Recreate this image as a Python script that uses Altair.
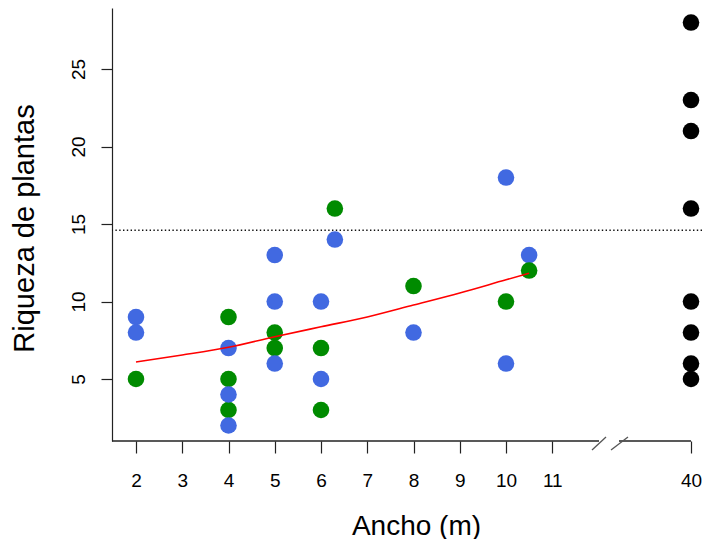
import altair as alt
import pandas as pd

# ---------------- data ----------------
x_tick_values = [2, 3, 4, 5, 6, 7, 8, 9, 10, 11, 40]
y_tick_values = [5, 10, 15, 20, 25]

green_x = [2, 4, 4, 4, 5, 5, 6, 6, 6.3, 8, 10, 10.5]
green_y = [5, 9, 5, 3, 8, 7, 7, 3, 16, 11, 10, 12]

blue_x = [2, 2, 4, 4, 4, 5, 5, 5, 6, 6, 6.3, 8, 10, 10, 10.5]
blue_y = [9, 8, 7, 4, 2, 13, 10, 6, 10, 5, 14, 8, 18, 6, 13]

black_x = [40, 40, 40, 40, 40, 40, 40, 40]
black_y = [28, 23, 21, 16, 10, 8, 6, 5]

curve_x = [2, 3, 4, 5, 6, 7, 8, 9, 10, 10.5]
curve_y = [6.1, 6.55, 7.05, 7.73, 8.37, 9.0, 9.77, 10.55, 11.4, 11.82]

threshold_y = [14.6]

# ---------------- layout constants ----------------
BREAK_POS = 14          # plotted position of the 40 m value (broken axis)
PX_PER_UNIT = 46.25
X_MIN = 2 - 24 / PX_PER_UNIT
PLOT_W, PLOT_H = 590, 433
X_MAX = X_MIN + PLOT_W / PX_PER_UNIT
Y_MIN, Y_MAX = 1.0, 28.94
FONT = "Liberation Sans"
AXIS_COL = "#222222"


def xpos(v):
    return BREAK_POS if v >= 40 else v


def px_to_x(px):
    # pixel offset from the page's left edge -> position on the x scale
    return X_MIN + (px - 112) / PX_PER_UNIT


# points table in drawing order
rows = []
for x, y in zip(green_x, green_y):
    rows.append({"xp": xpos(x), "y": y, "grp": "verde", "ord": 2 if x == 10.5 else 0})
for x, y in zip(blue_x, blue_y):
    rows.append({"xp": xpos(x), "y": y, "grp": "azul", "ord": 1})
for x, y in zip(black_x, black_y):
    rows.append({"xp": xpos(x), "y": y, "grp": "negro", "ord": 3})
pts = pd.DataFrame(rows).sort_values("ord", kind="stable").reset_index(drop=True)

curve = pd.DataFrame({"xp": [xpos(v) for v in curve_x], "y": curve_y})
thr = pd.DataFrame({"y": threshold_y})

# broken x-axis line and the two slashes
axis_seg = pd.DataFrame({"x1": [X_MIN, px_to_x(619)], "x2": [px_to_x(599), BREAK_POS],
                         "y": [Y_MIN, Y_MIN]})
slashes = pd.DataFrame({
    "x1": [px_to_x(592), px_to_x(611)], "x2": [px_to_x(606), px_to_x(628)],
    "y1": [0.42, 0.42], "y2": [1.26, 1.26],
})

xscale = alt.Scale(domain=[X_MIN, X_MAX], nice=False, zero=False)
yscale = alt.Scale(domain=[Y_MIN, Y_MAX], nice=False, zero=False)

tick_pos = [xpos(v) for v in x_tick_values]

x_axis = alt.Axis(
    values=tick_pos,
    labelExpr="datum.value == %d ? '40' : datum.label" % BREAK_POS,
    domain=False, grid=False,
    tickSize=12, tickColor=AXIS_COL, tickWidth=1.2,
    labelFont=FONT, labelFontSize=19, labelColor="black", labelPadding=18,
    labelFlush=False, labelOverlap=False,
    title="Ancho (m)", titleFont=FONT, titleFontSize=28, titleFontWeight="normal",
    titleColor="black", titleX=304, titleY=93, titleAlign="center",
    titleBaseline="alphabetic",
)
y_axis = alt.Axis(
    values=y_tick_values, grid=False,
    domain=True, domainColor=AXIS_COL, domainWidth=1.2,
    tickSize=11, tickColor=AXIS_COL, tickWidth=1.2,
    labelFont=FONT, labelFontSize=19, labelColor="black", labelAngle=270,
    labelAlign="center", labelBaseline="bottom", labelPadding=13,
    labelFlush=False, labelOverlap=False,
    title="Riqueza de plantas", titleFont=FONT, titleFontSize=29,
    titleFontWeight="normal", titleColor="black", titleAngle=270,
    titleX=-79, titleY=220, titleAlign="center", titleBaseline="alphabetic",
)

dotted = alt.Chart(thr).mark_rule(
    color="#111111", strokeWidth=1.4, strokeDash=[1.4, 2.4]
).encode(y=alt.Y("y:Q", scale=yscale, axis=y_axis))

points = alt.Chart(pts).mark_circle(size=275, opacity=1).encode(
    x=alt.X("xp:Q", scale=xscale, axis=x_axis),
    y=alt.Y("y:Q", scale=yscale, axis=y_axis),
    color=alt.Color(
        "grp:N",
        scale=alt.Scale(domain=["verde", "azul", "negro"],
                        range=["#008B00", "#4169E1", "#000000"]),
        legend=None,
    ),
)

line = alt.Chart(curve).mark_line(
    color="#FF0000", strokeWidth=1.6, interpolate="monotone"
).encode(
    x=alt.X("xp:Q", scale=xscale, axis=x_axis),
    y=alt.Y("y:Q", scale=yscale, axis=y_axis),
)

axis_line = alt.Chart(axis_seg).mark_rule(color=AXIS_COL, strokeWidth=1.3).encode(
    x=alt.X("x1:Q", scale=xscale, axis=x_axis),
    x2="x2:Q",
    y=alt.Y("y:Q", scale=yscale, axis=y_axis),
)

slash_marks = alt.Chart(slashes).mark_rule(color="#555555", strokeWidth=1.3).encode(
    x=alt.X("x1:Q", scale=xscale, axis=x_axis),
    x2="x2:Q",
    y=alt.Y("y1:Q", scale=yscale, axis=y_axis),
    y2="y2:Q",
)

chart = alt.layer(points, dotted, line, axis_line, slash_marks).properties(
    width=PLOT_W,
    height=PLOT_H,
    autosize=alt.AutoSizeParams(type="none"),
    padding={"left": 104, "top": 0, "right": 0, "bottom": 98},
    background="white",
).configure_view(stroke=None)

chart.save("out.html", embed_options={"renderer": "svg", "actions": False})
